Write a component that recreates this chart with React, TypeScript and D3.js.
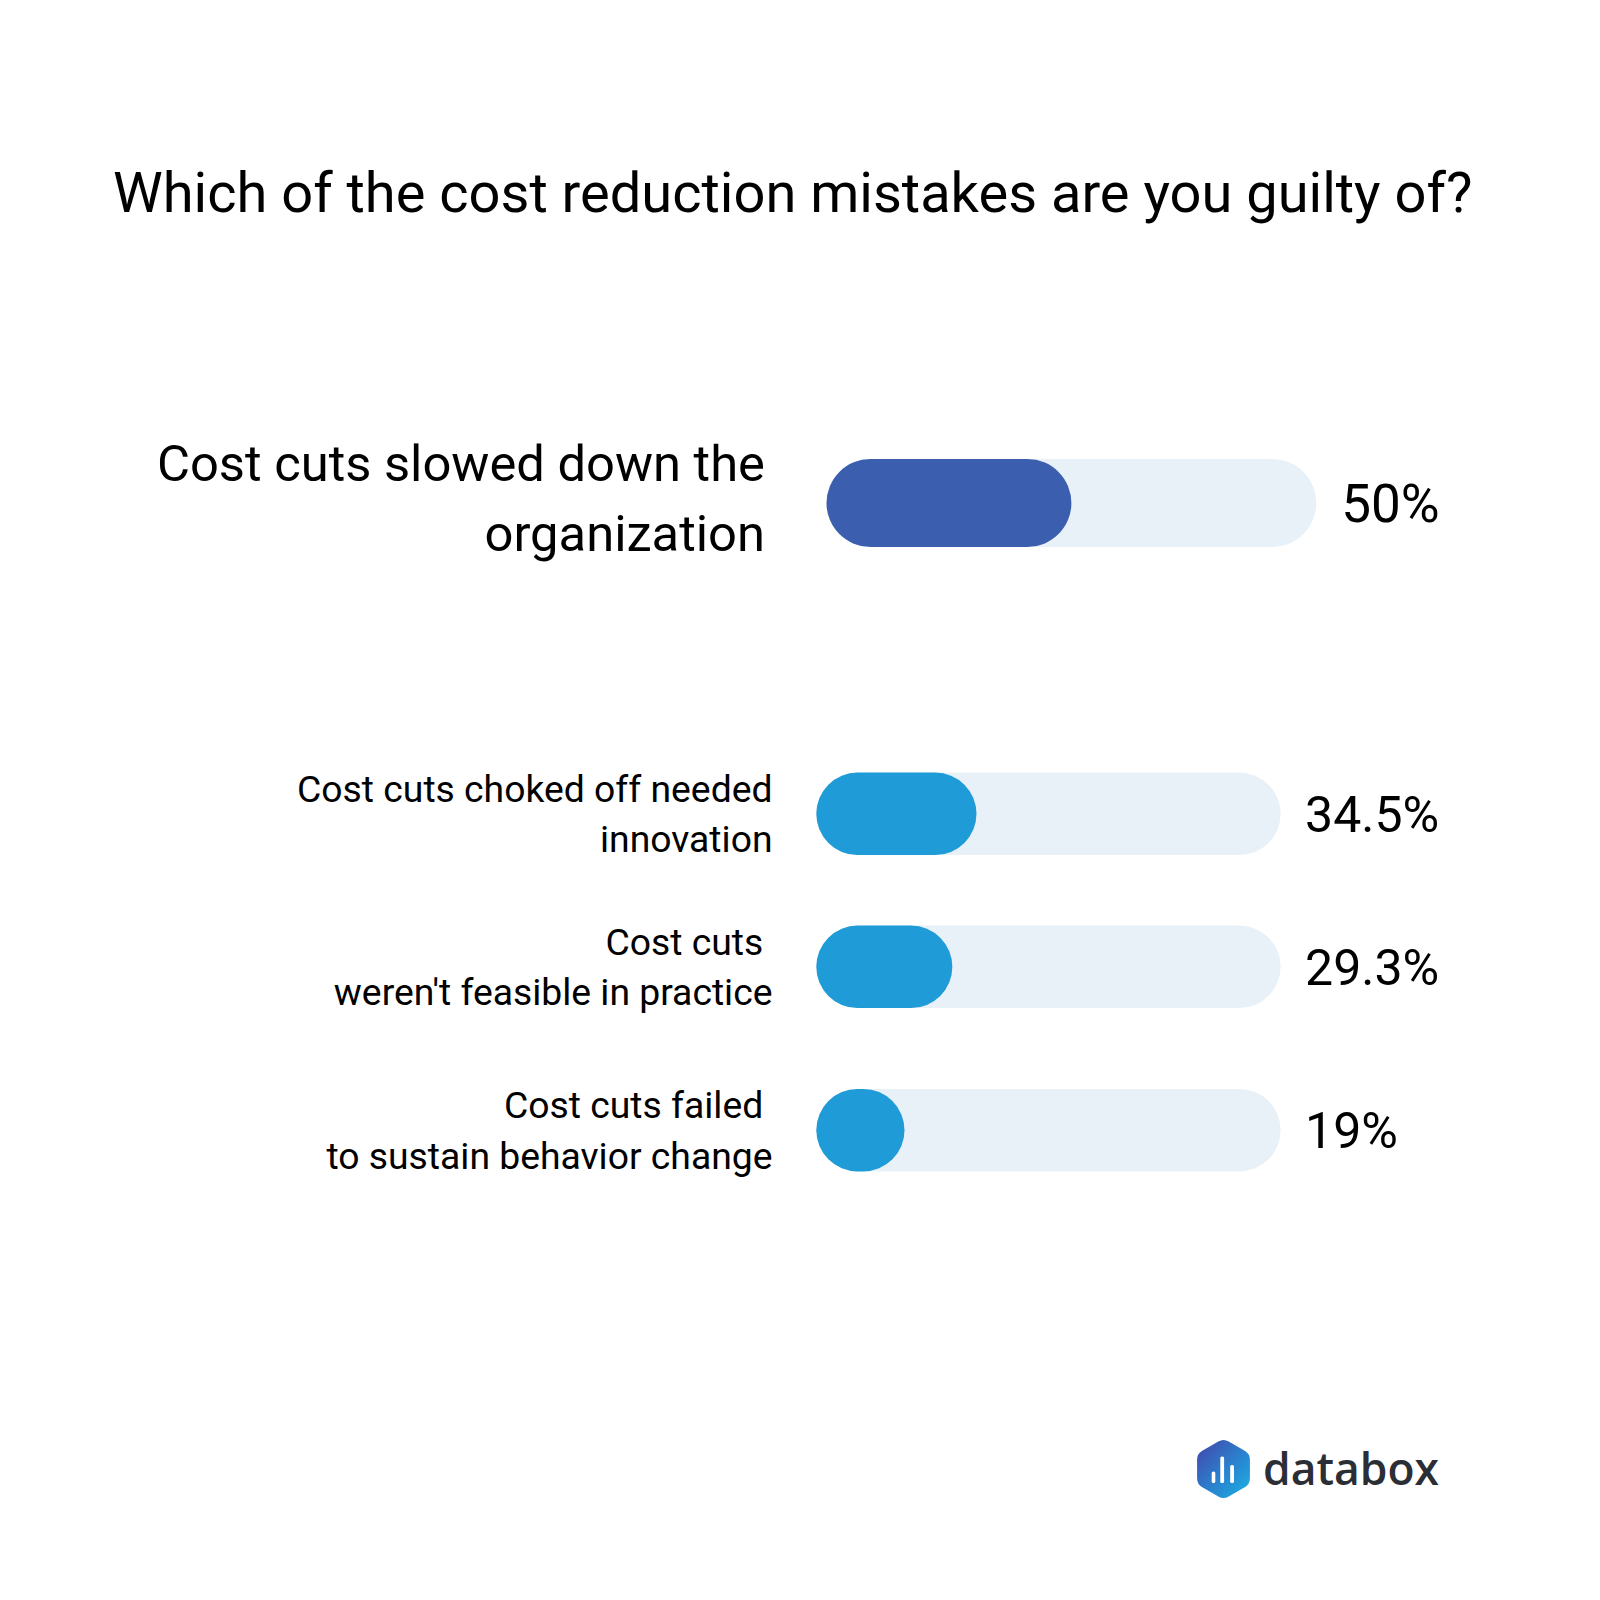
import React from "react";
import * as d3 from "d3";

const title = "Which of the cost reduction mistakes are you guilty of?";
const categories: string[][] = [
  ["Cost cuts slowed down the", "organization"],
  ["Cost cuts choked off needed", "innovation"],
  ["Cost cuts ", "weren't feasible in practice"],
  ["Cost cuts failed ", "to sustain behavior change"],
];
const values = [50, 34.5, 29.3, 19];
const valueLabels = ["50%", "34.5%", "29.3%", "19%"];
const brand = "databox";

const W = 1600;
const H = 1600;

// layout per row: featured first row, three regular rows
const rows = [
  { x0: 826.5, x1: 1316.3, cy: 503, h: 88, font: 50.7, lineGap: 69.5, labelRight: 765, labelShift: -5, color: "#3c5eaf", valueFont: 53, valueGap: 25 },
  { x0: 816.3, x1: 1280.6, cy: 813.8, h: 82.5, font: 37.3, lineGap: 50.5, labelRight: 772.5, labelShift: 0, color: "#1f9bd7", valueFont: 50, valueGap: 24.5 },
  { x0: 816.3, x1: 1280.6, cy: 966.8, h: 82.5, font: 37.3, lineGap: 50.5, labelRight: 772.5, labelShift: 0, color: "#1f9bd7", valueFont: 50, valueGap: 24.5 },
  { x0: 816.3, x1: 1280.6, cy: 1130.2, h: 82.5, font: 37.3, lineGap: 50.5, labelRight: 772.5, labelShift: 0, color: "#1f9bd7", valueFont: 50, valueGap: 24.5 },
];

function hexPath(cx: number, cy: number, r: number): string {
  const pts: [number, number][] = d3.range(6).map((i) => {
    const a = (Math.PI / 3) * i - Math.PI / 2;
    return [cx + r * Math.cos(a), cy + r * Math.sin(a)];
  });
  const rad = 6;
  let d = "";
  pts.forEach((p, i) => {
    const prev = pts[(i + 5) % 6];
    const next = pts[(i + 1) % 6];
    const v1 = [prev[0] - p[0], prev[1] - p[1]];
    const v2 = [next[0] - p[0], next[1] - p[1]];
    const l1 = Math.hypot(v1[0], v1[1]);
    const l2 = Math.hypot(v2[0], v2[1]);
    const a = [p[0] + (v1[0] / l1) * rad, p[1] + (v1[1] / l1) * rad];
    const b = [p[0] + (v2[0] / l2) * rad, p[1] + (v2[1] / l2) * rad];
    d += (i === 0 ? "M" : "L") + a[0] + "," + a[1] + " Q" + p[0] + "," + p[1] + " " + b[0] + "," + b[1] + " ";
  });
  return d + "Z";
}

export default function App() {
  const font = "Roboto, 'Noto Sans', sans-serif";
  return (
    <svg
      width={W}
      height={H}
      viewBox={`0 0 ${W} ${H}`}
      style={{ position: "absolute", left: 0, top: 0, background: "#ffffff" }}
    >
      <defs>
        <linearGradient id="hexGrad" x1="0" y1="0" x2="1" y2="1">
          <stop offset="0%" stopColor="#4344a8" />
          <stop offset="55%" stopColor="#2a82cf" />
          <stop offset="100%" stopColor="#19b4e2" />
        </linearGradient>
      </defs>
      <rect x={0} y={0} width={W} height={H} fill="#ffffff" />
      <text x={113} y={212} fontFamily={font} fontSize={56} fill="#000">
        {title}
      </text>
      {values.map((v, i) => {
        const r = rows[i];
        const x = d3.scaleLinear().domain([0, 100]).range([r.x0, r.x1]);
        const top = r.cy - r.h / 2;
        const lines = categories[i];
        const nLines = lines.length;
        const capH = r.font * 0.711;
        const firstBase = r.cy + capH / 2 - ((nLines - 1) * r.lineGap) / 2 + r.labelShift;
        return (
          <g key={i}>
            <rect x={x(0)} y={top} width={x(100) - x(0)} height={r.h} rx={r.h / 2} fill="#e8f1f8" />
            <rect x={x(0)} y={top} width={x(v) - x(0)} height={r.h} rx={r.h / 2} fill={r.color} />
            <text
              x={x(100) + r.valueGap}
              y={r.cy + (r.valueFont * 0.711) / 2}
              fontFamily={font}
              fontSize={r.valueFont}
              fill="#000"
            >
              {valueLabels[i]}
            </text>
            <text
              fontFamily={font}
              fontSize={r.font}
              fill="#000"
              textAnchor="end"
              style={{ whiteSpace: "pre" }}
            >
              {lines.map((ln, j) => (
                <tspan key={j} x={r.labelRight} y={firstBase + j * r.lineGap}>
                  {ln}
                </tspan>
              ))}
            </text>
          </g>
        );
      })}
      <g>
        <path d={hexPath(1223.5, 1469, 30.5)} fill="url(#hexGrad)" />
        {[
          [1211.7, 1471.5, 3.6],
          [1220.3, 1456.5, 3.8],
          [1230.2, 1465, 3.8],
        ].map(([bx, by, bw], k) => (
          <rect key={k} x={bx} y={by} width={bw} height={1483 - by} rx={1.6} fill="#ffffff" />
        ))}
        <text
          x={1263}
          y={1485}
          fontFamily="'Open Sans', sans-serif"
          fontWeight={600}
          fontSize={46}
          fill="#2b2e34"
          textLength={176}
          lengthAdjust="spacingAndGlyphs"
        >
          {brand}
        </text>
      </g>
    </svg>
  );
}
